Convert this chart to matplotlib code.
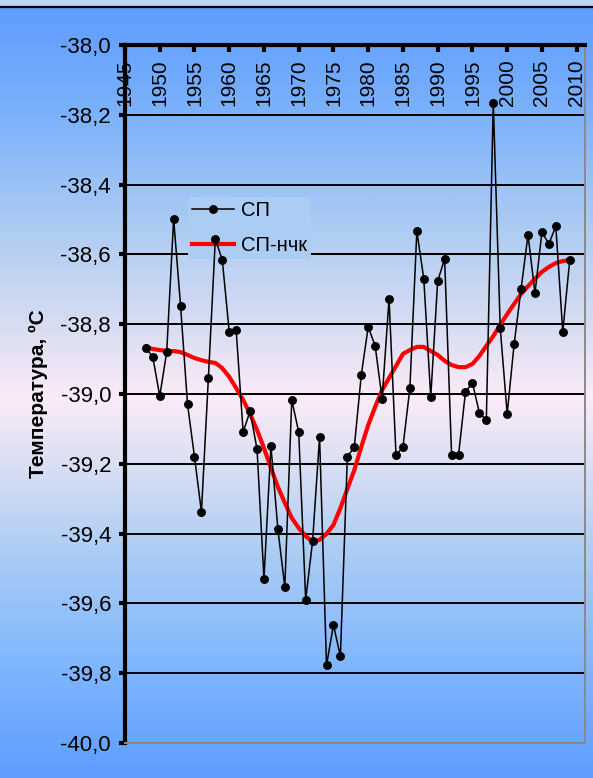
import numpy as np
import matplotlib
matplotlib.use("Agg")
import matplotlib.pyplot as plt
from matplotlib.colors import LinearSegmentedColormap
from matplotlib.patches import Rectangle
from matplotlib.lines import Line2D
from matplotlib.ticker import FuncFormatter

plt.rcParams['font.family'] = ['Liberation Sans', 'DejaVu Sans']

# Annual mean temperature, СП station
years = list(range(1948, 2010))
sp = [
    -38.868, -38.894, -39.006, -38.880, -38.499, -38.748, -39.030, -39.180,
    -39.338, -38.954, -38.556, -38.616, -38.822, -38.817, -39.109, -39.049,
    -39.158, -39.530, -39.149, -39.387, -39.553, -39.017, -39.109, -39.590,
    -39.421, -39.123, -39.777, -39.662, -39.751, -39.180, -39.152, -38.946,
    -38.808, -38.862, -39.014, -38.728, -39.175, -39.152, -38.983, -38.533,
    -38.670, -39.009, -38.676, -38.613, -39.175, -39.175, -38.994, -38.968,
    -39.054, -39.074, -38.166, -38.811, -39.057, -38.857, -38.699, -38.544,
    -38.711, -38.536, -38.570, -38.519, -38.822, -38.616,
]
# Low-frequency component (СП-нчк)
sp_lf = [
    -38.865, -38.871, -38.874, -38.877, -38.877, -38.880, -38.888, -38.897,
    -38.903, -38.908, -38.911, -38.926, -38.951, -38.983, -39.017, -39.057,
    -39.103, -39.155, -39.212, -39.266, -39.312, -39.355, -39.384, -39.407,
    -39.424, -39.418, -39.401, -39.375, -39.327, -39.272, -39.218, -39.152,
    -39.089, -39.037, -38.989, -38.954, -38.920, -38.885, -38.874, -38.865,
    -38.865, -38.877, -38.888, -38.905, -38.917, -38.923, -38.923, -38.914,
    -38.891, -38.862, -38.834, -38.802, -38.771, -38.742, -38.713, -38.691,
    -38.670, -38.650, -38.636, -38.625, -38.619, -38.616,
]
year_ticks = list(range(1945, 2011, 5))
temp_ticks = [-38.0, -38.2, -38.4, -38.6, -38.8, -39.0, -39.2, -39.4, -39.6, -39.8, -40.0]

W, H = 593, 778
fig = plt.figure(figsize=(W / 100, H / 100), dpi=100)

# vertical gradient behind everything
bg = fig.add_axes([0, 0, 1, 1], zorder=-10)
bg.set_axis_off()
stops = [
    (0.00, "#5C9BFF"), (0.15, "#7DB3FB"), (0.30, "#B0CDF3"), (0.42, "#D8DDF2"),
    (0.51, "#FCEBF8"), (0.60, "#D9DFF3"), (0.72, "#A9CBF5"), (0.86, "#7EB6FD"),
    (1.00, "#5E9DFF"),
]
cmap = LinearSegmentedColormap.from_list("bg", stops)
grad = np.linspace(0, 1, 512).reshape(-1, 1)
bg.imshow(grad, cmap=cmap, aspect="auto", extent=[0, 1, 0, 1], origin="upper")
bg.set_xlim(0, 1)
bg.set_ylim(0, 1)

# header strip
fig.add_artist(Rectangle((0, 1 - 6 / H), 1, 6 / H, transform=fig.transFigure,
                         facecolor="#BBD5F2", edgecolor="none", zorder=5))
fig.add_artist(Line2D([0, 1], [1 - 7 / H, 1 - 7 / H], transform=fig.transFigure,
                      color="black", lw=1.6, zorder=6))

ax = fig.add_axes([125 / W, 1 - 743 / H, (585 - 125) / W, (743 - 45) / H])
ax.set_facecolor("none")

ax.plot(years, sp, color="black", lw=1.1, marker="o", ms=5.4, zorder=4, label="СП")
ax.plot(years, sp_lf, color="#FF0000", lw=3.0, zorder=3, label="СП-нчк")

ax.set_xlim(1945, 2011.2)
ax.set_ylim(-40.0, -38.0)

ax.set_yticks(temp_ticks)
ax.yaxis.set_major_formatter(FuncFormatter(lambda v, p: f"{v:.1f}".replace(".", ",")))
ax.yaxis.grid(True, color="black", lw=1.4, zorder=1)
ax.set_axisbelow(True)

ax.set_xticks(year_ticks)
ax.set_xticklabels([str(y) for y in year_ticks], rotation=90)
ax.xaxis.tick_top()
ax.tick_params(axis="x", direction="in", length=5, width=3, pad=-44, labelsize=15)
ax.tick_params(axis="y", direction="out", length=4, width=3, pad=6, labelsize=16)

for lab in ax.get_xticklabels():
    lab.set_verticalalignment("bottom")

ax.spines["left"].set_linewidth(3)
ax.spines["top"].set_linewidth(3)
ax.spines["right"].set_color("#8A8A8A")
ax.spines["bottom"].set_color("#8A8A8A")
ax.spines["right"].set_linewidth(1.4)
ax.spines["bottom"].set_linewidth(1.4)

ax.set_ylabel("Температура, ºС", fontsize=15, fontweight="bold", labelpad=9)

leg = ax.legend(loc="upper left", bbox_to_anchor=(0.115, 0.797), frameon=True,
                fontsize=14.5, handlelength=2.1, borderpad=0.2, labelspacing=0.8,
                handletextpad=0.35)
leg.get_frame().set_facecolor("#ABCCF3")
leg.get_frame().set_edgecolor("none")
leg.get_frame().set_alpha(1.0)
leg.set_zorder(2)

fig.savefig("out.png", dpi=100)
